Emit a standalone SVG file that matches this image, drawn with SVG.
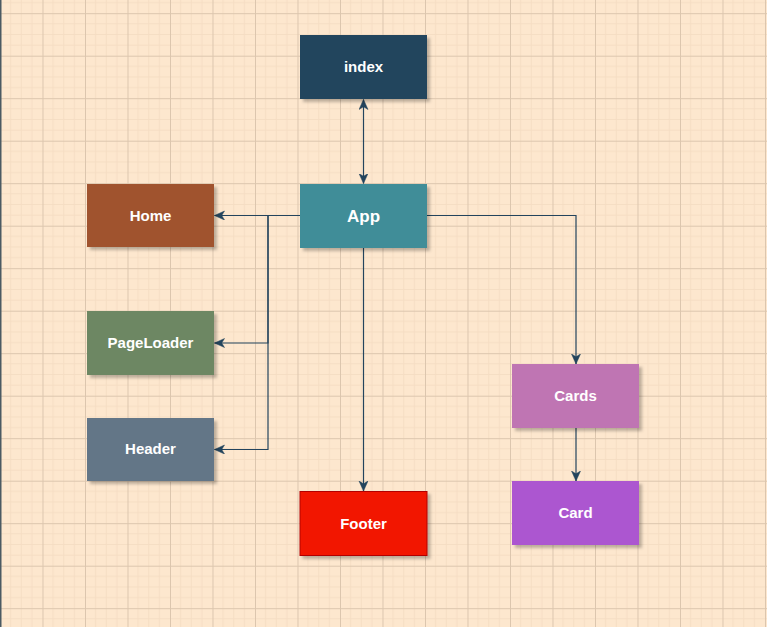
<svg xmlns="http://www.w3.org/2000/svg" width="767" height="627" viewBox="0 0 767 627">
  <defs>
    <pattern id="grid" width="42.5" height="42.5" x="0" y="13.2" patternUnits="userSpaceOnUse">
      <path d="M10.625,0V42.5M21.25,0V42.5M31.875,0V42.5M0,10.625H42.5M0,21.25H42.5M0,31.875H42.5" stroke="#F5DDC3" stroke-width="1" fill="none"/>
      <path d="M0.5,0V42.5M0,0.5H42.5" stroke="#DCC6AE" stroke-width="1" fill="none"/>
    </pattern>
    <filter id="shadow" x="-10%" y="-10%" width="130%" height="140%">
      <feDropShadow dx="3" dy="3" stdDeviation="1.6" flood-color="#000" flood-opacity="0.25"/>
    </filter>
    <marker id="arrow" markerWidth="11" markerHeight="10" refX="10" refY="4.5" orient="auto-start-reverse" markerUnits="userSpaceOnUse">
      <path d="M0,0 L10,4.5 L0,9 L2.8,4.5 Z" fill="#23445D" stroke="#23445D" stroke-width="0.5"/>
    </marker>
  </defs>
  <style>
    .node rect { filter: url(#shadow); }
    .node text { font-family: "Liberation Sans", Arial, sans-serif; font-weight: bold; font-size: 15px; fill: #FFFFFF; text-anchor: middle; }
    .edge { fill: none; stroke: #23445D; stroke-width: 1.2; marker-end: url(#arrow); }
  </style>
  <rect x="0" y="0" width="767" height="627" fill="#FDE7CE"/>
  <rect x="0" y="0" width="767" height="627" fill="url(#grid)"/>
  <line x1="0.75" y1="0" x2="0.75" y2="627" stroke="#4B5A63" stroke-width="1.5"/>

  <g id="connectors">
    <path class="edge" d="M363.5,99.5 L363.5,183.5" marker-start="url(#arrow)"/>
    <path class="edge" d="M300,215.5 L214.5,215.5"/>
    <path class="edge" d="M300,215.5 L268,215.5 L268,343 L214.5,343"/>
    <path class="edge" d="M300,215.5 L268,215.5 L268,449.5 L214.5,449.5"/>
    <path class="edge" d="M363.5,248 L363.5,491"/>
    <path class="edge" d="M427,215.5 L576,215.5 L576,364"/>
    <path class="edge" d="M576,428 L576,481"/>
  </g>

  <g id="index" class="node">
    <rect x="300" y="35" width="127" height="64" fill="#23445D"/>
    <text x="363.5" y="72">index</text>
  </g>
  <g id="App" class="node">
    <rect x="300" y="184" width="127" height="64" fill="#408D98"/>
    <text x="363.5" y="222" style="font-size:17px">App</text>
  </g>
  <g id="Home" class="node">
    <rect x="87" y="184" width="127" height="63" fill="#A0522D"/>
    <text x="150.5" y="221">Home</text>
  </g>
  <g id="PageLoader" class="node">
    <rect x="87" y="311" width="127" height="64" fill="#6D8764"/>
    <text x="150.5" y="348">PageLoader</text>
  </g>
  <g id="Header" class="node">
    <rect x="87" y="418" width="127" height="63" fill="#647687"/>
    <text x="150.5" y="454">Header</text>
  </g>
  <g id="Footer" class="node">
    <rect x="300" y="491.5" width="127" height="64" fill="#F21600" stroke="#B20000" stroke-width="1"/>
    <text x="363.5" y="529">Footer</text>
  </g>
  <g id="Cards" class="node">
    <rect x="512" y="364" width="127" height="64" fill="#BF74B3"/>
    <text x="575.5" y="401">Cards</text>
  </g>
  <g id="Card" class="node">
    <rect x="512" y="481" width="127" height="64" fill="#AC57D0"/>
    <text x="575.5" y="518">Card</text>
  </g>
</svg>
